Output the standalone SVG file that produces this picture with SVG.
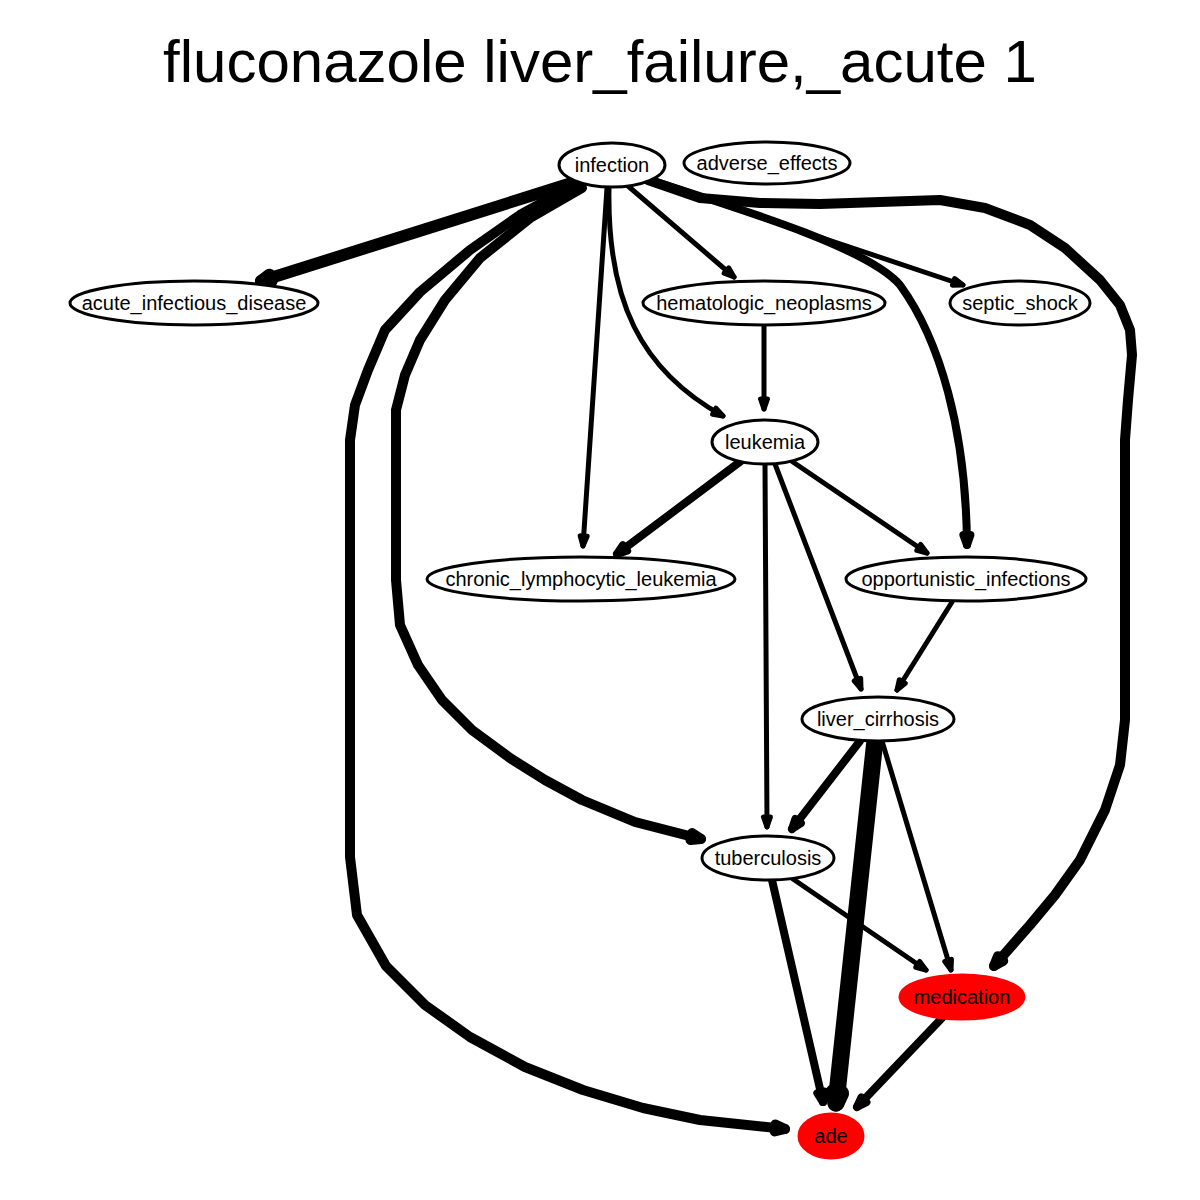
<svg xmlns="http://www.w3.org/2000/svg" width="1200" height="1200" viewBox="0 0 1200 1200">
<style>
.n ellipse{fill:#fff;stroke:#000;stroke-width:3}
.n.red ellipse{fill:#ff0000;stroke:#ff0000}
.n text{font-family:"Liberation Sans",Arial,sans-serif;font-size:20px;text-anchor:middle;fill:#000}
.e path{fill:none;stroke:#000;stroke-linecap:round;stroke-linejoin:round}
.w4{stroke-width:5}.w7{stroke-width:8}.w9{stroke-width:10}.w10{stroke-width:12}.w16{stroke-width:17}
marker path{fill:#000;stroke:#000;stroke-linejoin:round}
</style>
<defs>
<marker id="a4" markerUnits="userSpaceOnUse" orient="auto" refX="10" refY="0" markerWidth="1" markerHeight="1" overflow="visible"><path d="M0,-3.5L10,0L0,3.5Z" stroke-width="5"/></marker>
<marker id="a7" markerUnits="userSpaceOnUse" orient="auto" refX="10" refY="0" markerWidth="1" markerHeight="1" overflow="visible"><path d="M0,-3.5L10,0L0,3.5Z" stroke-width="8"/></marker>
<marker id="a9" markerUnits="userSpaceOnUse" orient="auto" refX="10" refY="0" markerWidth="1" markerHeight="1" overflow="visible"><path d="M0,-3.5L10,0L0,3.5Z" stroke-width="10"/></marker>
<marker id="a10" markerUnits="userSpaceOnUse" orient="auto" refX="10" refY="0" markerWidth="1" markerHeight="1" overflow="visible"><path d="M0,-3.5L10,0L0,3.5Z" stroke-width="12"/></marker>
<marker id="a16" markerUnits="userSpaceOnUse" orient="auto" refX="10" refY="0" markerWidth="1" markerHeight="1" overflow="visible"><path d="M0,-3.5L10,0L0,3.5Z" stroke-width="17"/></marker>
</defs>
<rect width="1200" height="1200" fill="#fff"/>
<text x="600" y="82" font-family="'Liberation Sans',Arial,sans-serif" font-size="60" text-anchor="middle">fluconazole liver_failure,_acute 1</text>
<g id="edges" class="e">
<path id="e1" class="w10" marker-end="url(#a10)" d="M578,181L261,281"/>
<path id="e2" class="w4" marker-end="url(#a4)" d="M607,188L583,546"/>
<path id="e3" class="w4" marker-end="url(#a4)" d="M628,186L734,277"/>
<path id="e4" class="w4" marker-end="url(#a4)" d="M609,188C607,300 640,370 723,416"/>
<path id="e5" class="w4" marker-end="url(#a4)" d="M655,182L963,285"/>
<path id="e6" class="w7" marker-end="url(#a7)" d="M650,180C760,215 870,250 900,285C940,340 966,430 967,545"/>
<path id="e7" class="w9" marker-end="url(#a9)" d="M582,188L530,218L480,258L445,300L420,340L405,375L396,410L396,580L400,625L418,665L442,700L472,730L510,758L545,780L582,800L635,822L701,839"/>
<path id="e8" class="w9" marker-end="url(#a9)" d="M575,185L520,215L470,250L420,292L385,330L368,370L355,405L350,440L350,857L357,915L386,966L425,1005L470,1037L525,1067L583,1090L643,1108L700,1120L785,1129"/>
<path id="e9" class="w9" marker-end="url(#a9)" d="M648,180L700,198L760,203L820,204L880,202L940,200L985,208L1030,225L1065,248L1100,280L1120,305L1130,330L1132,355L1128,400L1125,440L1125,720L1120,765L1105,810L1080,860L1055,895L1030,925L994,966"/>
<path id="e10" class="w4" marker-end="url(#a4)" d="M764,326L764,409"/>
<path id="e11" class="w7" marker-end="url(#a7)" d="M741,461L617,554"/>
<path id="e12" class="w4" marker-end="url(#a4)" d="M790,460L927,553"/>
<path id="e13" class="w4" marker-end="url(#a4)" d="M775,464L861,689"/>
<path id="e14" class="w4" marker-end="url(#a4)" d="M765,464L767,827"/>
<path id="e15" class="w4" marker-end="url(#a4)" d="M952,602L897,690"/>
<path id="e16" class="w7" marker-end="url(#a7)" d="M860,741L792,829"/>
<path id="e17" class="w16" marker-end="url(#a16)" d="M875,740L836,1103"/>
<path id="e18" class="w4" marker-end="url(#a4)" d="M882,741L951,970"/>
<path id="e19" class="w7" marker-end="url(#a7)" d="M772,880L823,1102"/>
<path id="e20" class="w4" marker-end="url(#a4)" d="M793,879L926,970"/>
<path id="e21" class="w7" marker-end="url(#a7)" d="M942,1018L857,1107"/>
</g>
<g id="infection" class="n"><ellipse cx="612" cy="165" rx="53" ry="22"/><text x="612" y="172">infection</text></g>
<g id="adverse_effects" class="n"><ellipse cx="767" cy="163" rx="83" ry="21"/><text x="767" y="170">adverse_effects</text></g>
<g id="acute_infectious_disease" class="n"><ellipse cx="194" cy="303" rx="124" ry="22"/><text x="194" y="310">acute_infectious_disease</text></g>
<g id="hematologic_neoplasms" class="n"><ellipse cx="764" cy="303" rx="121" ry="22"/><text x="764" y="310">hematologic_neoplasms</text></g>
<g id="septic_shock" class="n"><ellipse cx="1020" cy="303" rx="70" ry="22"/><text x="1020" y="310">septic_shock</text></g>
<g id="leukemia" class="n"><ellipse cx="765" cy="442" rx="53" ry="22"/><text x="765" y="449">leukemia</text></g>
<g id="chronic_lymphocytic_leukemia" class="n"><ellipse cx="581" cy="579" rx="154" ry="22"/><text x="581" y="586">chronic_lymphocytic_leukemia</text></g>
<g id="opportunistic_infections" class="n"><ellipse cx="966" cy="579" rx="120" ry="22"/><text x="966" y="586">opportunistic_infections</text></g>
<g id="liver_cirrhosis" class="n"><ellipse cx="878" cy="719" rx="76" ry="22"/><text x="878" y="726">liver_cirrhosis</text></g>
<g id="tuberculosis" class="n"><ellipse cx="768" cy="858" rx="66" ry="22"/><text x="768" y="865">tuberculosis</text></g>
<g id="medication" class="n red"><ellipse cx="962" cy="997" rx="62" ry="22"/><text x="962" y="1004">medication</text></g>
<g id="ade" class="n red"><ellipse cx="831" cy="1136" rx="32" ry="22"/><text x="831" y="1143">ade</text></g>
</svg>
